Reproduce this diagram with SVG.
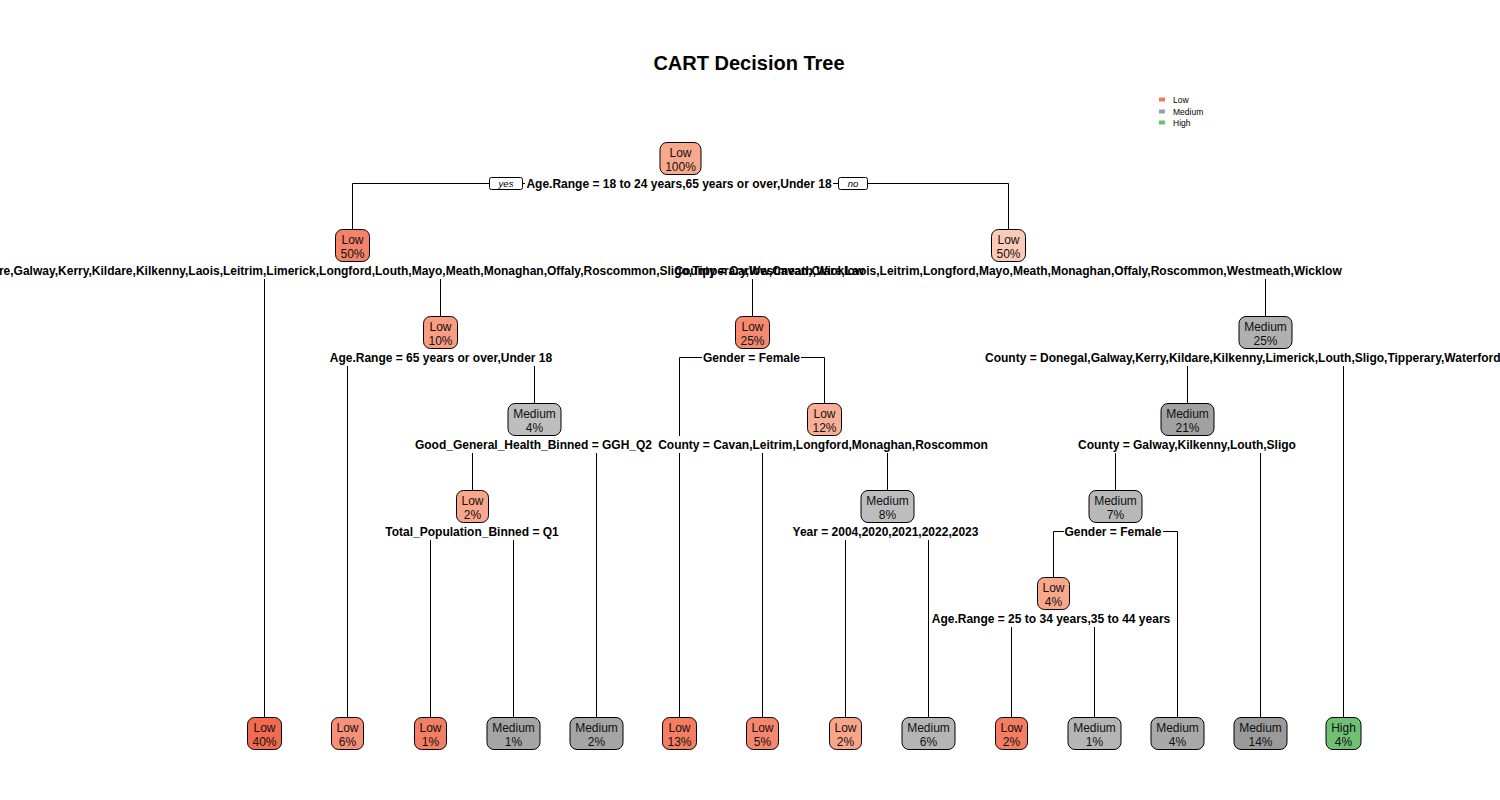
<svg xmlns="http://www.w3.org/2000/svg" width="1500" height="800" viewBox="0 0 1500 800">
<style>
.bg{fill:#fff}
.title{font-family:"Liberation Sans",Arial,sans-serif;font-size:20px;font-weight:bold;fill:#000;text-anchor:middle}
.lg{font-family:"Liberation Sans",Arial,sans-serif;font-size:8.5px;fill:#000}
.conn{fill:none;stroke:#000;stroke-width:1}
.lbg{fill:#fff;stroke:none}
.split{font-family:"Liberation Sans",Arial,sans-serif;font-size:12px;font-weight:bold;fill:#000;text-anchor:middle}
.st{text-anchor:start}
.yn{fill:#fff;stroke:#000;stroke-width:1}
.yntx{font-family:"Liberation Sans",Arial,sans-serif;font-size:9.5px;font-style:italic;fill:#000;text-anchor:middle}
.box{stroke:#000;stroke-width:1}
.nt{font-family:"Liberation Sans",Arial,sans-serif;font-size:12px;fill:#111;text-anchor:middle}
</style>
<rect class="bg" x="0" y="0" width="1500" height="800"/>
<text class="title" x="749" y="70">CART Decision Tree</text>
<g id="legend">
<rect x="1159" y="97.5" width="6" height="4" fill="#F5785C"/>
<rect x="1159" y="109.5" width="6" height="4" fill="#9E9E9E"/>
<rect x="1159" y="120.5" width="6" height="4" fill="#6DBF6F"/>
<text class="lg" x="1173" y="102.5">Low</text>
<text class="lg" x="1173" y="114.5">Medium</text>
<text class="lg" x="1173" y="125.5">High</text>
</g>
<g id="connectors">
<path class="conn" d="M352.5,229.5V183.5H1008.5V229.5"/>
<path class="conn" d="M264.5,717.5V270.5H440.5V316.5"/>
<path class="conn" d="M752.5,316.5V270.5H1265.5V316.5"/>
<path class="conn" d="M347.5,717.5V357.5H534.5V403.5"/>
<path class="conn" d="M679.5,717.5V357.5H824.5V403.5"/>
<path class="conn" d="M1187.5,403.5V357.5H1343.5V717.5"/>
<path class="conn" d="M472.5,490.5V444.5H596.5V717.5"/>
<path class="conn" d="M762.5,717.5V444.5H887.5V490.5"/>
<path class="conn" d="M1115.5,490.5V444.5H1260.5V717.5"/>
<path class="conn" d="M430.5,717.5V531.5H513.5V717.5"/>
<path class="conn" d="M845.5,717.5V531.5H928.5V717.5"/>
<path class="conn" d="M1053.5,577.5V531.5H1177.5V717.5"/>
<path class="conn" d="M1011.5,717.5V618.5H1094.5V717.5"/>
<rect class="yn" x="489.5" y="177.5" width="33" height="12" rx="2"/>
<text class="yntx" x="506" y="187">yes</text>
<rect class="yn" x="838.5" y="177.5" width="29" height="12" rx="2"/>
<text class="yntx" x="853" y="187">no</text>
</g>
<g id="split-labels">
<rect class="lbg" x="525" y="175" width="308" height="17"/>
<rect class="lbg" x="0" y="262" width="845" height="17"/>
<rect class="lbg" x="676" y="262" width="663" height="17"/>
<rect class="lbg" x="330" y="349" width="222" height="17"/>
<rect class="lbg" x="702" y="349" width="99" height="17"/>
<rect class="lbg" x="983" y="349" width="517" height="17"/>
<rect class="lbg" x="417" y="436" width="233" height="17"/>
<rect class="lbg" x="661" y="436" width="324" height="17"/>
<rect class="lbg" x="1080" y="436" width="214" height="17"/>
<rect class="lbg" x="385" y="523" width="174" height="17"/>
<rect class="lbg" x="788" y="523" width="195" height="17"/>
<rect class="lbg" x="1064" y="523" width="99" height="17"/>
<rect class="lbg" x="931" y="610" width="240" height="17"/>
<text class="split" x="679" y="188">Age.Range = 18 to 24 years,65 years or over,Under 18</text>
<text class="split st" x="-157" y="275">County = Carlow,Cavan,Clare,Galway,Kerry,Kildare,Kilkenny,Laois,Leitrim,Limerick,Longford,Louth,Mayo,Meath,Monaghan,Offaly,Roscommon,Sligo,Tipperary,Westmeath,Wicklow</text>
<text class="split" x="1008" y="275">County = Carlow,Cavan,Clare,Laois,Leitrim,Longford,Mayo,Meath,Monaghan,Offaly,Roscommon,Westmeath,Wicklow</text>
<text class="split" x="441" y="362">Age.Range = 65 years or over,Under 18</text>
<text class="split" x="751.5" y="362">Gender = Female</text>
<text class="split st" x="985" y="362">County = Donegal,Galway,Kerry,Kildare,Kilkenny,Limerick,Louth,Sligo,Tipperary,Waterford,Wexford</text>
<text class="split" x="533.5" y="449">Good_General_Health_Binned = GGH_Q2</text>
<text class="split" x="823" y="449">County = Cavan,Leitrim,Longford,Monaghan,Roscommon</text>
<text class="split" x="1187" y="449">County = Galway,Kilkenny,Louth,Sligo</text>
<text class="split" x="472" y="536">Total_Population_Binned = Q1</text>
<text class="split" x="885.5" y="536">Year = 2004,2020,2021,2022,2023</text>
<text class="split" x="1113" y="536">Gender = Female</text>
<text class="split" x="1051" y="623">Age.Range = 25 to 34 years,35 to 44 years</text>
</g>
<g id="n-root"><rect class="box" x="660" y="142.5" width="41" height="32" rx="7" fill="#F9A88C"/><text class="nt" x="680.5" y="157">Low</text><text class="nt" x="680.5" y="171">100%</text></g>
<g id="n-l1a"><rect class="box" x="335.5" y="229.5" width="34" height="32" rx="7" fill="#F5836A"/><text class="nt" x="352.5" y="244">Low</text><text class="nt" x="352.5" y="258">50%</text></g>
<g id="n-l1b"><rect class="box" x="991.5" y="229.5" width="34" height="32" rx="7" fill="#FBCBB8"/><text class="nt" x="1008.5" y="244">Low</text><text class="nt" x="1008.5" y="258">50%</text></g>
<g id="n-low10"><rect class="box" x="423.5" y="316.5" width="34" height="32" rx="7" fill="#F89C82"/><text class="nt" x="440.5" y="331">Low</text><text class="nt" x="440.5" y="345">10%</text></g>
<g id="n-low25"><rect class="box" x="735.5" y="316.5" width="34" height="32" rx="7" fill="#F68A70"/><text class="nt" x="752.5" y="331">Low</text><text class="nt" x="752.5" y="345">25%</text></g>
<g id="n-med25"><rect class="box" x="1239" y="316.5" width="53" height="32" rx="7" fill="#B0B0B0"/><text class="nt" x="1265.5" y="331">Medium</text><text class="nt" x="1265.5" y="345">25%</text></g>
<g id="n-med4"><rect class="box" x="508" y="403.5" width="53" height="32" rx="7" fill="#BEBEBE"/><text class="nt" x="534.5" y="418">Medium</text><text class="nt" x="534.5" y="432">4%</text></g>
<g id="n-low12"><rect class="box" x="807.5" y="403.5" width="34" height="32" rx="7" fill="#F9AE96"/><text class="nt" x="824.5" y="418">Low</text><text class="nt" x="824.5" y="432">12%</text></g>
<g id="n-med21"><rect class="box" x="1161" y="403.5" width="53" height="32" rx="7" fill="#A1A1A1"/><text class="nt" x="1187.5" y="418">Medium</text><text class="nt" x="1187.5" y="432">21%</text></g>
<g id="n-low2a"><rect class="box" x="456.5" y="490.5" width="32" height="32" rx="7" fill="#F9A78B"/><text class="nt" x="472.5" y="505">Low</text><text class="nt" x="472.5" y="519">2%</text></g>
<g id="n-med8"><rect class="box" x="861" y="490.5" width="53" height="32" rx="7" fill="#BDBDBD"/><text class="nt" x="887.5" y="505">Medium</text><text class="nt" x="887.5" y="519">8%</text></g>
<g id="n-med7"><rect class="box" x="1089" y="490.5" width="53" height="32" rx="7" fill="#B8B8B8"/><text class="nt" x="1115.5" y="505">Medium</text><text class="nt" x="1115.5" y="519">7%</text></g>
<g id="n-low4"><rect class="box" x="1037.5" y="577.5" width="32" height="32" rx="7" fill="#F9A78B"/><text class="nt" x="1053.5" y="592">Low</text><text class="nt" x="1053.5" y="606">4%</text></g>
<g id="leaf-1"><rect class="box" x="247.5" y="717.5" width="34" height="32" rx="7" fill="#F26A4F"/><text class="nt" x="264.5" y="732">Low</text><text class="nt" x="264.5" y="746">40%</text></g>
<g id="leaf-2"><rect class="box" x="331.5" y="717.5" width="32" height="32" rx="7" fill="#F79078"/><text class="nt" x="347.5" y="732">Low</text><text class="nt" x="347.5" y="746">6%</text></g>
<g id="leaf-3"><rect class="box" x="414.5" y="717.5" width="32" height="32" rx="7" fill="#F47E63"/><text class="nt" x="430.5" y="732">Low</text><text class="nt" x="430.5" y="746">1%</text></g>
<g id="leaf-4"><rect class="box" x="487" y="717.5" width="53" height="32" rx="7" fill="#A5A5A5"/><text class="nt" x="513.5" y="732">Medium</text><text class="nt" x="513.5" y="746">1%</text></g>
<g id="leaf-5"><rect class="box" x="570" y="717.5" width="53" height="32" rx="7" fill="#A5A5A5"/><text class="nt" x="596.5" y="732">Medium</text><text class="nt" x="596.5" y="746">2%</text></g>
<g id="leaf-6"><rect class="box" x="662.5" y="717.5" width="34" height="32" rx="7" fill="#F47D62"/><text class="nt" x="679.5" y="732">Low</text><text class="nt" x="679.5" y="746">13%</text></g>
<g id="leaf-7"><rect class="box" x="746.5" y="717.5" width="32" height="32" rx="7" fill="#F6866C"/><text class="nt" x="762.5" y="732">Low</text><text class="nt" x="762.5" y="746">5%</text></g>
<g id="leaf-8"><rect class="box" x="829.5" y="717.5" width="32" height="32" rx="7" fill="#F9A58A"/><text class="nt" x="845.5" y="732">Low</text><text class="nt" x="845.5" y="746">2%</text></g>
<g id="leaf-9"><rect class="box" x="902" y="717.5" width="53" height="32" rx="7" fill="#B5B5B5"/><text class="nt" x="928.5" y="732">Medium</text><text class="nt" x="928.5" y="746">6%</text></g>
<g id="leaf-10"><rect class="box" x="995.5" y="717.5" width="32" height="32" rx="7" fill="#F57D61"/><text class="nt" x="1011.5" y="732">Low</text><text class="nt" x="1011.5" y="746">2%</text></g>
<g id="leaf-11"><rect class="box" x="1068" y="717.5" width="53" height="32" rx="7" fill="#B5B5B5"/><text class="nt" x="1094.5" y="732">Medium</text><text class="nt" x="1094.5" y="746">1%</text></g>
<g id="leaf-12"><rect class="box" x="1151" y="717.5" width="53" height="32" rx="7" fill="#A9A9A9"/><text class="nt" x="1177.5" y="732">Medium</text><text class="nt" x="1177.5" y="746">4%</text></g>
<g id="leaf-13"><rect class="box" x="1234" y="717.5" width="53" height="32" rx="7" fill="#9A9A9A"/><text class="nt" x="1260.5" y="732">Medium</text><text class="nt" x="1260.5" y="746">14%</text></g>
<g id="leaf-14"><rect class="box" x="1326" y="717.5" width="35" height="32" rx="7" fill="#6FC073"/><text class="nt" x="1343.5" y="732">High</text><text class="nt" x="1343.5" y="746">4%</text></g>
</svg>
